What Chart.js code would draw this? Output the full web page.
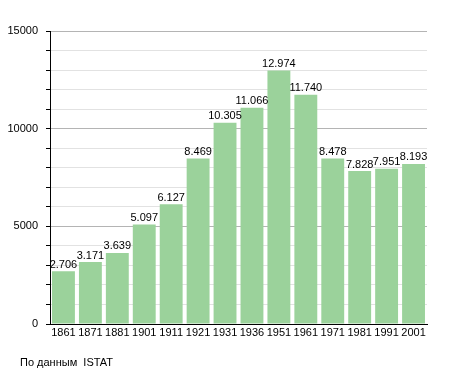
<!DOCTYPE html>
<html lang="ru">
<head>
<meta charset="UTF-8">
<title>Население</title>
<script src="https://cdn.jsdelivr.net/npm/chart.js"></script>
<style>
  html, body { margin: 0; padding: 0; background: #fff; }
  #wrap { position: relative; width: 455px; height: 373px; }
  #note { position: absolute; left: 20px; top: 356px; font: 11px "Liberation Sans", Arial, sans-serif; color: #000; }
</style>
</head>
<body>
<div id="wrap">
  <canvas id="chart" width="455" height="373"></canvas>
  <div id="note">По данным &nbsp;ISTAT</div>
</div>
<script>
// data
const years = ['1861', '1871', '1881', '1901', '1911', '1921', '1931', '1936', '1951', '1961', '1971', '1981', '1991', '2001'];
const population = [2706, 3171, 3639, 5097, 6127, 8469, 10305, 11066, 12974, 11740, 8478, 7828, 7951, 8193];
const yTicks = [0, 5000, 10000, 15000];

const fontFamily = '"Liberation Sans", Arial, sans-serif';

// thousands with a dot, e.g. 2.706
const fmt = v => String(v).replace(/\B(?=(\d{3})+(?!\d))/g, '.');

// value labels above each bar
const barLabels = {
  id: 'barLabels',
  afterDatasetsDraw(chart) {
    const ctx = chart.ctx;
    const meta = chart.getDatasetMeta(0);
    ctx.save();
    ctx.font = '11px ' + fontFamily;
    ctx.fillStyle = '#000';
    ctx.textAlign = 'center';
    ctx.textBaseline = 'bottom';
    meta.data.forEach((bar, i) => {
      ctx.fillText(fmt(population[i]), bar.x, bar.y - 1);
    });
    ctx.restore();
  }
};

new Chart(document.getElementById('chart'), {
  type: 'bar',
  data: {
    labels: years,
    datasets: [{
      data: population,
      backgroundColor: '#9bd29b',
      borderWidth: 0,
      barPercentage: 0.85,
      categoryPercentage: 1
    }]
  },
  options: {
    responsive: false,
    animation: false,
    layout: { padding: { top: 31, right: 28, left: 0, bottom: 0 } },
    plugins: { legend: { display: false }, tooltip: { enabled: false } },
    scales: {
      x: {
        afterFit: s => { s.height = 49; },
        grid: { display: false, drawTicks: false },
        border: { display: true, color: '#000', width: 1 },
        ticks: { color: '#000', font: { family: fontFamily, size: 11 }, padding: 2, maxRotation: 0, autoSkip: false }
      },
      y: {
        min: 0,
        max: 15000,
        afterFit: s => { s.width = 50; },
        border: { display: true, color: '#000', width: 1 },
        grid: {
          color: c => (c.tick && yTicks.includes(c.tick.value)) ? '#b4b4b4' : '#e2e2e2',
          tickColor: '#000',
          tickLength: 4
        },
        ticks: {
          stepSize: 1000,
          color: '#000',
          font: { family: fontFamily, size: 11 },
          padding: 8,
          callback: v => yTicks.includes(v) ? String(v) : ''
        }
      }
    }
  },
  plugins: [barLabels]
});
</script>
</body>
</html>
